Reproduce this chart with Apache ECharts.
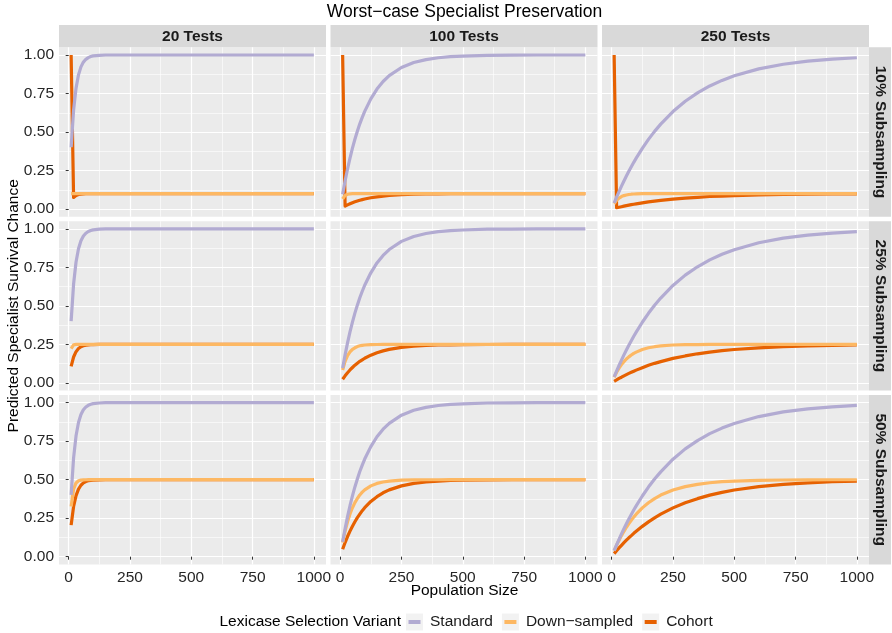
<!DOCTYPE html>
<html><head><meta charset="utf-8">
<script src="https://cdn.jsdelivr.net/npm/echarts@6/dist/echarts.min.js"></script>
<style>html,body{margin:0;padding:0;background:#fff}#c{width:892px;height:633px}</style>
</head><body><div id="c"></div>
<script>
// ---------- data ----------
const populationSizes = [10,20,30,40,50,60,70,80,90,100,125,150,175,200,250,300,350,400,450,500,600,700,800,900,1000];
const testLabels = ['20 Tests','100 Tests','250 Tests'];
const subsamplingLabels = ['10% Subsampling','25% Subsampling','50% Subsampling'];
const variantNames = ['Standard','Down\u2212sampled','Cohort'];
const xTickValues = [0,250,500,750,1000];
const yTickValues = [0,0.25,0.5,0.75,1];
const xMinorValues = [125,375,625,875];
const yMinorValues = [0.125,0.375,0.625,0.875];

const standardT20  = [0.401,0.642,0.785,0.871,0.923,0.954,0.972,0.983,0.990,0.994,0.998,1.0,1.0,1.0,1.0,1.0,1.0,1.0,1.0,1.0,1.0,1.0,1.0,1.0,1.0];
const standardT100 = [0.096,0.182,0.260,0.331,0.395,0.453,0.505,0.553,0.595,0.634,0.715,0.779,0.828,0.866,0.919,0.951,0.970,0.982,0.989,0.993,0.998,0.999,1.0,1.0,1.0];
const standardT250 = [0.039,0.077,0.113,0.148,0.182,0.214,0.245,0.274,0.303,0.330,0.394,0.452,0.504,0.551,0.633,0.700,0.754,0.799,0.835,0.865,0.910,0.940,0.960,0.973,0.982];

const downS10T20  = [0.1,0.1,0.1,0.1,0.1,0.1,0.1,0.1,0.1,0.1,0.1,0.1,0.1,0.1,0.1,0.1,0.1,0.1,0.1,0.1,0.1,0.1,0.1,0.1,0.1];
const cohortS10T20 = [1.0,0.075,0.0875,0.094,0.097,0.098,0.099,0.0996,0.0998,0.0999,0.1,0.1,0.1,0.1,0.1,0.1,0.1,0.1,0.1,0.1,0.1,0.1,0.1,0.1,0.1];
const downS25T20  = [0.223,0.247,0.2497,0.25,0.25,0.25,0.25,0.25,0.25,0.25,0.25,0.25,0.25,0.25,0.25,0.25,0.25,0.25,0.25,0.25,0.25,0.25,0.25,0.25,0.25];
const cohortS25T20 = [0.107,0.168,0.203,0.223,0.235,0.241,0.245,0.247,0.248,0.249,0.2498,0.25,0.25,0.25,0.25,0.25,0.25,0.25,0.25,0.25,0.25,0.25,0.25,0.25,0.25];
const downS50T20  = [0.326,0.439,0.479,0.493,0.497,0.499,0.4997,0.4999,0.5,0.5,0.5,0.5,0.5,0.5,0.5,0.5,0.5,0.5,0.5,0.5,0.5,0.5,0.5,0.5,0.5];
const cohortS50T20 = [0.205,0.326,0.397,0.439,0.464,0.479,0.488,0.493,0.496,0.497,0.499,0.4998,0.5,0.5,0.5,0.5,0.5,0.5,0.5,0.5,0.5,0.5,0.5,0.5,0.5];

const downS10T100  = [0.065,0.088,0.096,0.0985,0.0995,0.0998,0.0999,0.1,0.1,0.1,0.1,0.1,0.1,0.1,0.1,0.1,0.1,0.1,0.1,0.1,0.1,0.1,0.1,0.1,0.1];
const cohortS10T100 = [1.0,0.019,0.027,0.034,0.041,0.047,0.052,0.057,0.061,0.065,0.073,0.079,0.084,0.088,0.093,0.096,0.0975,0.0985,0.099,0.0995,0.0998,0.0999,0.1,0.1,0.1];
const downS25T100  = [0.084,0.140,0.177,0.201,0.218,0.228,0.236,0.241,0.244,0.246,0.2485,0.2495,0.2498,0.2499,0.25,0.25,0.25,0.25,0.25,0.25,0.25,0.25,0.25,0.25,0.25];
const cohortS25T100 = [0.024,0.046,0.066,0.084,0.100,0.115,0.128,0.140,0.150,0.160,0.180,0.196,0.208,0.218,0.231,0.238,0.243,0.246,0.2475,0.2485,0.2495,0.2498,0.2499,0.25,0.25];
const downS50T100  = [0.092,0.166,0.227,0.277,0.318,0.351,0.378,0.401,0.419,0.434,0.460,0.476,0.485,0.491,0.497,0.499,0.4996,0.4998,0.4999,0.5,0.5,0.5,0.5,0.5,0.5];
const cohortS50T100 = [0.048,0.092,0.131,0.166,0.198,0.227,0.254,0.277,0.299,0.318,0.359,0.390,0.415,0.434,0.460,0.476,0.485,0.491,0.495,0.497,0.499,0.4996,0.4998,0.4999,0.5];

const downS10T250  = [0.034,0.056,0.071,0.081,0.087,0.091,0.094,0.096,0.0975,0.098,0.0994,0.0998,0.0999,0.1,0.1,0.1,0.1,0.1,0.1,0.1,0.1,0.1,0.1,0.1,0.1];
const cohortS10T250 = [1.0,0.008,0.0115,0.015,0.0185,0.022,0.025,0.028,0.031,0.0335,0.040,0.046,0.051,0.056,0.064,0.071,0.076,0.081,0.084,0.087,0.091,0.094,0.096,0.0975,0.098];
const downS25T250  = [0.037,0.069,0.096,0.119,0.138,0.155,0.169,0.181,0.192,0.200,0.217,0.228,0.235,0.240,0.246,0.248,0.249,0.2496,0.2498,0.2499,0.25,0.25,0.25,0.25,0.25];
const cohortS25T250 = [0.010,0.019,0.029,0.037,0.046,0.054,0.062,0.069,0.076,0.083,0.099,0.114,0.127,0.138,0.159,0.175,0.189,0.200,0.209,0.217,0.228,0.235,0.240,0.243,0.246];
const downS50T250  = [0.039,0.074,0.107,0.137,0.165,0.191,0.215,0.237,0.257,0.276,0.317,0.350,0.377,0.400,0.433,0.455,0.470,0.480,0.487,0.491,0.496,0.498,0.499,0.4996,0.4998];
const cohortS50T250 = [0.020,0.039,0.057,0.074,0.091,0.107,0.123,0.137,0.152,0.165,0.197,0.226,0.252,0.276,0.317,0.350,0.377,0.400,0.418,0.433,0.455,0.470,0.480,0.487,0.491];

// panel table: [row = subsampling][col = tests] -> [standard, down-sampled, cohort]
const panelSeries = [
  [[standardT20, downS10T20, cohortS10T20], [standardT100, downS10T100, cohortS10T100], [standardT250, downS10T250, cohortS10T250]],
  [[standardT20, downS25T20, cohortS25T20], [standardT100, downS25T100, cohortS25T100], [standardT250, downS25T250, cohortS25T250]],
  [[standardT20, downS50T20, cohortS50T20], [standardT100, downS50T100, cohortS50T100], [standardT250, downS50T250, cohortS50T250]]
];

// ---------- style / layout ----------
const FONT = '"Liberation Sans", Arial, Helvetica, sans-serif';
const variantColors = ['#B2ABD2', '#FDB863', '#E66101'];
const drawOrder = [2, 1, 0]; // cohort first, standard last
const colLeft = [59, 330.5, 602];
const panelW = 267;
const rowTop = [47.3, 221.2, 395];
const panelH = 169.4;
const xMin = -39.5, xMax = 1049.5, yMin = -0.05, yMax = 1.05;

const grids = [], xAxes = [], yAxes = [], series = [], graphics = [];

for (let r = 0; r < 3; r++) {
  for (let c = 0; c < 3; c++) {
    const g = r * 3 + c;
    grids.push({left: colLeft[c], top: rowTop[r], width: panelW, height: panelH,
      show: true, backgroundColor: '#EBEBEB', borderWidth: 0, containLabel: false});
    const bottomRow = r === 2, leftCol = c === 0;
    xAxes.push({gridIndex: g, type: 'value', min: xMin, max: xMax,
      axisLine: {show: false},
      axisTick: {show: bottomRow, customValues: xTickValues, length: 3, lineStyle: {color: '#333', width: 1}},
      axisLabel: {show: bottomRow, customValues: xTickValues, margin: 5, fontSize: 15.5, color: '#262626', fontFamily: FONT,
        formatter: v => String(v)},
      splitLine: {show: true, lineStyle: {color: '#FFFFFF', width: 1.2}}, z: 1});
    xAxes.push({gridIndex: g, type: 'value', min: xMin, max: xMax,
      axisLine: {show: false},
      axisTick: {show: false, customValues: xMinorValues},
      axisLabel: {show: false, customValues: xMinorValues},
      splitLine: {show: true, lineStyle: {color: '#FFFFFF', width: 0.6}}, z: 0});
    yAxes.push({gridIndex: g, type: 'value', min: yMin, max: yMax,
      axisLine: {show: false},
      axisTick: {show: leftCol, customValues: yTickValues, length: 3, lineStyle: {color: '#333', width: 1}},
      axisLabel: {show: leftCol, customValues: yTickValues, margin: 5, fontSize: 15.5, color: '#262626', fontFamily: FONT,
        formatter: v => v.toFixed(2)},
      splitLine: {show: true, lineStyle: {color: '#FFFFFF', width: 1.2}}, z: 1});
    yAxes.push({gridIndex: g, type: 'value', min: yMin, max: yMax,
      axisLine: {show: false},
      axisTick: {show: false, customValues: yMinorValues},
      axisLabel: {show: false, customValues: yMinorValues},
      splitLine: {show: true, lineStyle: {color: '#FFFFFF', width: 0.6}}, z: 0});
    drawOrder.forEach((v, k) => {
      const vals = panelSeries[r][c][v];
      series.push({type: 'line', name: variantNames[v], xAxisIndex: 2 * g, yAxisIndex: 2 * g,
        data: populationSizes.map((p, i) => [p, vals[i]]),
        showSymbol: false, symbol: 'none', silent: true, animation: false,
        color: variantColors[v],
        lineStyle: {color: variantColors[v], width: 3.2, cap: 'butt', join: 'round'},
        z: 5 + k});
    });
  }
}

// strips
for (let c = 0; c < 3; c++) {
  graphics.push({type: 'rect', shape: {x: colLeft[c], y: 25, width: panelW, height: 22.3}, style: {fill: '#D9D9D9'}, silent: true});
  graphics.push({type: 'text', x: colLeft[c] + panelW / 2, y: 36.5,
    style: {text: testLabels[c], font: 'bold 15.5px ' + FONT, fill: '#1A1A1A', align: 'center', verticalAlign: 'middle'}, silent: true});
}
for (let r = 0; r < 3; r++) {
  const sx = colLeft[2] + panelW;
  graphics.push({type: 'rect', shape: {x: sx, y: rowTop[r], width: 22, height: panelH}, style: {fill: '#D9D9D9'}, silent: true});
  graphics.push({type: 'text', x: sx + 11.5, y: rowTop[r] + panelH / 2, rotation: -Math.PI / 2,
    style: {text: subsamplingLabels[r], font: 'bold 15.5px ' + FONT, fill: '#1A1A1A', align: 'center', verticalAlign: 'middle'}, silent: true});
}
// titles
graphics.push({type: 'text', x: 464.5, y: 12, style: {text: 'Worst\u2212case Specialist Preservation', font: '17.5px ' + FONT, fill: '#000', align: 'center', verticalAlign: 'middle'}, silent: true});
graphics.push({type: 'text', x: 464.5, y: 591, style: {text: 'Population Size', font: '15.5px ' + FONT, fill: '#000', align: 'center', verticalAlign: 'middle'}, silent: true});
graphics.push({type: 'text', x: 14, y: 305.8, rotation: Math.PI / 2, style: {text: 'Predicted Specialist Survival Chance', font: '15.5px ' + FONT, fill: '#000', align: 'center', verticalAlign: 'middle'}, silent: true});
graphics.push({type: 'text', x: 401, y: 622, style: {text: 'Lexicase Selection Variant', font: '15.5px ' + FONT, fill: '#000', align: 'right', verticalAlign: 'middle'}, silent: true});

const legendBase = {data: variantNames, orient: 'horizontal', left: 406, top: 613.5, itemWidth: 17, itemHeight: 17,
  itemGap: 9, selectedMode: false, padding: 0};
const chart = echarts.init(document.getElementById('c'), null, {renderer: 'canvas'});
chart.setOption({
  animation: false,
  backgroundColor: '#FFFFFF',
  grid: grids, xAxis: xAxes, yAxis: yAxes, series: series,
  legend: [
    Object.assign({}, legendBase, {z: 3, icon: 'rect', itemStyle: {color: '#F2F2F2', borderWidth: 0},
      textStyle: {fontSize: 15.5, fontFamily: FONT, color: 'rgba(0,0,0,0)', padding: [0, 0, 0, 2]}}),
    Object.assign({}, legendBase, {z: 4, icon: 'path://M0,0h0.01v0.01h-0.01z M16.99,16.99h0.01v0.01h-0.01z M2.5,6.5h12v4h-12z',
      itemStyle: {borderWidth: 0}, lineStyle: {width: 0},
      textStyle: {fontSize: 15.5, fontFamily: FONT, color: '#1A1A1A', padding: [0, 0, 0, 2]}})
  ],
  graphic: graphics
});
</script></body></html>
